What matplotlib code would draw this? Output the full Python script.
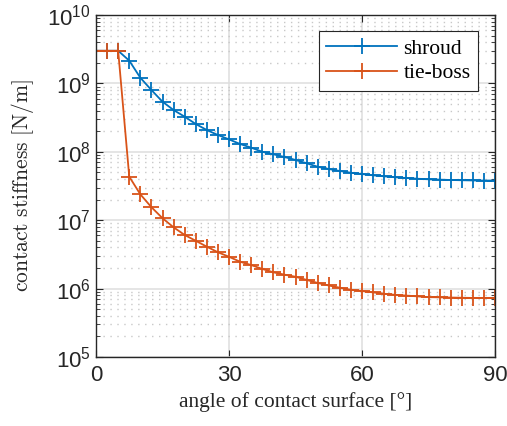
import numpy as np
import matplotlib
matplotlib.use('Agg')
import matplotlib.pyplot as plt
from matplotlib.ticker import LogLocator, FixedLocator

## data ##
angle = [0, 2.5, 5, 7.5, 10, 12.5, 15, 17.5, 20, 22.5, 25, 27.5, 30, 32.5, 35,
         37.5, 40, 42.5, 45, 47.5, 50, 52.5, 55, 57.5, 60, 62.5, 65, 67.5, 70,
         72.5, 75, 77.5, 80, 82.5, 85, 87.5, 90]

shroud = [3.0e9, 3.0e9, 3.0e9, 2.15e9, 1.21e9, 8.0e8, 5.4e8, 4.08e8, 3.26e8,
          2.55e8, 2.08e8, 1.76e8, 1.52e8, 1.30e8, 1.15e8, 1.0e8, 9.2e7, 8.4e7,
          7.6e7, 6.8e7, 6.05e7, 5.6e7, 5.24e7, 4.94e7, 4.73e7, 4.53e7, 4.38e7,
          4.24e7, 4.14e7, 4.04e7, 3.96e7, 3.92e7, 3.87e7, 3.84e7, 3.81e7,
          3.8e7, 3.8e7]

tieboss = [3.0e9, 3.0e9, 3.0e9, 4.33e7, 2.39e7, 1.55e7, 1.07e7, 7.87e6, 6.08e6,
           5.0e6, 4.1e6, 3.4e6, 2.92e6, 2.47e6, 2.21e6, 1.94e6, 1.73e6, 1.6e6,
           1.49e6, 1.34e6, 1.21e6, 1.11e6, 1.03e6, 9.6e5, 9.2e5, 8.8e5, 8.4e5,
           8.1e5, 7.9e5, 7.7e5, 7.5e5, 7.45e5, 7.4e5, 7.35e5, 7.3e5, 7.3e5,
           7.3e5]

x_ticks = [0, 30, 60, 90]

serif = ['Liberation Serif', 'DejaVu Serif']
sans = ['Liberation Sans', 'DejaVu Sans']
plt.rcParams['mathtext.fontset'] = 'cm'

fig = plt.figure(figsize=(5.07, 4.26), dpi=100)
ax = fig.add_axes([96/507, 69/426, 399/507, 342/426])

ax.semilogy(angle, shroud, color='#0072BD', lw=1.3, marker='+', ms=11, mew=1.3, label='shroud')
ax.semilogy(angle, tieboss, color='#D95319', lw=1.3, marker='+', ms=11, mew=1.3, label='tie-boss')

ax.set_xlim(0, 90)
ax.set_ylim(1e5, 1e10)
ax.xaxis.set_major_locator(FixedLocator(x_ticks))
ax.yaxis.set_major_locator(LogLocator(base=10, numticks=10))
ax.yaxis.set_minor_locator(LogLocator(base=10, subs=np.arange(2, 10), numticks=20))

ax.grid(True, which='major', color='#dedede', lw=1.1, ls='-')
ax.grid(True, which='minor', axis='y', color='#c8c8c8', lw=1.0, ls=(0, (1, 4)))
ax.set_axisbelow(True)

ax.tick_params(which='both', direction='in', top=True, right=True, color='#262626')
ax.tick_params(which='major', length=5, labelsize=16, colors='#262626')
ax.tick_params(which='minor', length=3)
ax.tick_params(axis='x', which='minor', top=False, bottom=False)
ax.tick_params(axis='x', pad=6)
for lab in ax.get_xticklabels() + ax.get_yticklabels():
    lab.set_family(sans)
for s in ax.spines.values():
    s.set_color('#262626')
    s.set_linewidth(1.0)

ax.set_xlabel('angle of contact surface [°]', fontsize=15.5, family=serif, color='#262626', labelpad=4)
ax.set_ylabel(r'$\mathrm{contact\ stiffness\ [N/m]}$', fontsize=15.5, color='#262626', labelpad=8)

leg = ax.legend(loc='upper right', bbox_to_anchor=(0.958, 0.952), prop={'family': serif, 'size': 15.5},
                fancybox=False, edgecolor='#262626', framealpha=1, handlelength=3.3,
                handletextpad=0.3, borderpad=0.35, labelspacing=0.2, borderaxespad=0)
leg.get_frame().set_linewidth(0.8)

fig.savefig('out.png', dpi=100)
